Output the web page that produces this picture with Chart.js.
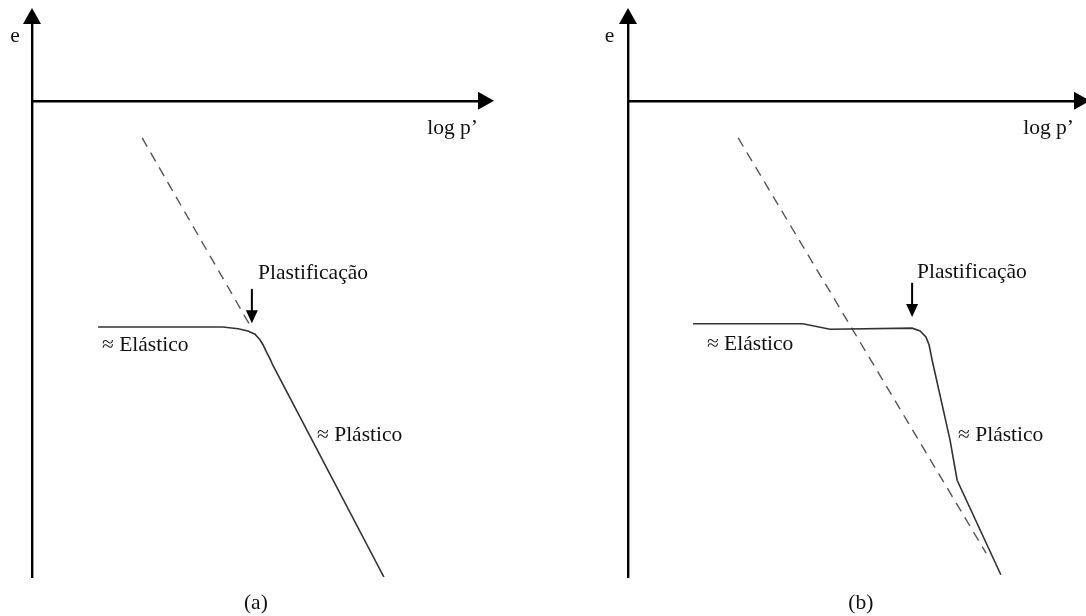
<!DOCTYPE html>
<html>
  <head>
    <meta charset="utf-8">
    <title>e - log p'</title>
    <style>
      html, body { margin: 0; padding: 0; background: #fff; overflow: hidden; }
      body { width: 1086px; height: 616px; position: relative; }
      canvas { position: absolute; top: 0; }
      #chartA { left: 0; }
      #chartB { left: 596px; }
    </style>
  </head>
  <body>
    <canvas id="chartA" width="543" height="616"></canvas>
    <canvas id="chartB" width="543" height="616"></canvas>

    <script src="https://cdn.jsdelivr.net/npm/chart.js@4/dist/chart.umd.min.js"></script>
    <script>
      // eixo horizontal (log p') fica em e = 8.61
      const eAxis = 8.61

      // (a) curva de compressao
      const curveA_logp = [1.48, 4.28, 4.62, 4.84, 5.00, 5.11, 5.18, 5.25, 5.34, 5.40, 7.89]
      const curveA_e    = [4.52, 4.52, 4.49, 4.45, 4.39, 4.29, 4.20, 4.08, 3.94, 3.83, 0.00]
      // (a) prolongamento da reta plastica
      const dashA_logp = [2.47, 4.91]
      const dashA_e    = [7.94, 4.52]

      // (b) curva de compressao
      const curveB_logp = [1.46, 3.92, 4.53, 6.37, 6.55, 6.68, 6.75, 6.82, 7.22, 7.38, 8.36]
      const curveB_e    = [4.58, 4.58, 4.48, 4.50, 4.45, 4.34, 4.20, 3.92, 2.48, 1.75, 0.04]
      // (b) reta de referencia
      const dashB_logp = [2.47, 8.03]
      const dashB_e    = [7.94, 0.43]

      // seta de plastificacao: [log p', e topo, e ponta]
      const yieldA = [4.93, 5.21, 4.59]
      const yieldB = [6.37, 5.32, 4.70]

      const FONT = '21.5px "Liberation Serif", "Times New Roman", serif'

      function pts(xs, ys) {
        return xs.map((x, i) => ({ x: x, y: ys[i] }))
      }

      // setas dos eixos, seta de plastificacao e textos
      const sketch = {
        id: 'sketch',
        afterDraw(chart, args, opts) {
          const ctx = chart.ctx
          const xs = chart.scales.x
          const ys = chart.scales.y
          const area = chart.chartArea
          const ox = xs.getPixelForValue(0)
          const hy = ys.getPixelForValue(eAxis)
          ctx.save()
          ctx.fillStyle = '#000'
          // seta do eixo e
          ctx.beginPath()
          ctx.moveTo(ox, area.top - 16)
          ctx.lineTo(ox - 9, area.top)
          ctx.lineTo(ox + 9, area.top)
          ctx.closePath()
          ctx.fill()
          // seta do eixo log p'
          ctx.beginPath()
          ctx.moveTo(area.right + 16, hy)
          ctx.lineTo(area.right, hy - 9)
          ctx.lineTo(area.right, hy + 9)
          ctx.closePath()
          ctx.fill()

          // seta "Plastificacao"
          const a = opts.yieldArrow
          const ax = xs.getPixelForValue(a[0])
          const top = ys.getPixelForValue(a[1])
          const tip = ys.getPixelForValue(a[2])
          ctx.strokeStyle = '#000'
          ctx.lineWidth = 2
          ctx.beginPath()
          ctx.moveTo(ax, top)
          ctx.lineTo(ax, tip - 12)
          ctx.stroke()
          ctx.beginPath()
          ctx.moveTo(ax, tip)
          ctx.lineTo(ax - 6, tip - 13)
          ctx.lineTo(ax + 6, tip - 13)
          ctx.closePath()
          ctx.fill()

          // textos
          ctx.font = FONT
          ctx.fillStyle = '#111'
          ctx.textBaseline = 'alphabetic'
          opts.labels.forEach(l => {
            ctx.textAlign = l.align || 'left'
            ctx.fillText(l.text, xs.getPixelForValue(l.x), ys.getPixelForValue(l.y))
          })
          ctx.restore()
        }
      }

      function makeChart(id, curve, dash, yieldArrow, labels) {
        return new Chart(document.getElementById(id), {
          type: 'line',
          data: {
            datasets: [
              {
                data: curve,
                borderColor: '#333',
                borderWidth: 1.6,
                pointRadius: 0,
                tension: 0
              },
              {
                data: dash,
                borderColor: '#555',
                borderWidth: 1.4,
                borderDash: [10, 7],
                pointRadius: 0,
                tension: 0
              }
            ]
          },
          options: {
            responsive: false,
            animation: false,
            events: [],
            layout: { padding: { left: 32, right: 65, top: 24, bottom: 39 } },
            scales: {
              x: {
                type: 'linear',
                min: 0,
                max: 10,
                position: { y: eAxis },
                grid: { display: false },
                ticks: { display: false },
                border: { display: true, color: '#000', width: 2.4 }
              },
              y: {
                type: 'linear',
                min: 0,
                max: 10,
                position: { x: 0 },
                grid: { display: false },
                ticks: { display: false },
                border: { display: true, color: '#000', width: 2.4 }
              }
            },
            plugins: {
              legend: { display: false },
              tooltip: { enabled: false },
              sketch: { yieldArrow: yieldArrow, labels: labels }
            }
          },
          plugins: [sketch]
        })
      }

      makeChart('chartA', pts(curveA_logp, curveA_e), pts(dashA_logp, dashA_e), yieldA, [
        { text: 'e', x: -0.49, y: 9.67 },
        { text: 'log p\u2019', x: 8.86, y: 8.01 },
        { text: 'Plastificação', x: 5.07, y: 5.39 },
        { text: '\u2248 Elástico', x: 1.57, y: 4.09 },
        { text: '\u2248 Plástico', x: 6.39, y: 2.46 },
        { text: '(a)', x: 5.02, y: -0.57, align: 'center' }
      ])

      makeChart('chartB', pts(curveB_logp, curveB_e), pts(dashB_logp, dashB_e), yieldB, [
        { text: 'e', x: -0.52, y: 9.67 },
        { text: 'log p\u2019', x: 8.86, y: 8.01 },
        { text: 'Plastificação', x: 6.48, y: 5.41 },
        { text: '\u2248 Elástico', x: 1.77, y: 4.11 },
        { text: '\u2248 Plástico', x: 7.40, y: 2.46 },
        { text: '(b)', x: 5.22, y: -0.57, align: 'center' }
      ])
    </script>
  </body>
</html>
